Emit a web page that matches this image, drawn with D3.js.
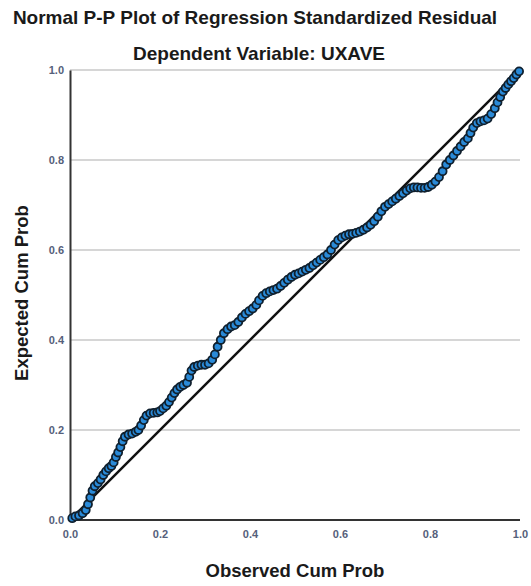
<!DOCTYPE html>
<html>
<head>
<meta charset="utf-8">
<script src="https://cdn.jsdelivr.net/npm/d3@7"></script>
<style>
  body { margin: 0; background: #fff; }
  text { font-family: "Liberation Sans", Arial, sans-serif; }
</style>
</head>
<body>
<div id="chart"></div>
<script>
// Titles
var title = "Normal P-P Plot of Regression Standardized Residual";
var subtitle = "Dependent Variable: UXAVE";
var xLabel = "Observed Cum Prob";
var yLabel = "Expected Cum Prob";
var tickValues = [0, 0.2, 0.4, 0.6, 0.8, 1.0];

// Points
var observed = [0.005,0.012,0.02,0.028,0.035,0.04,0.045,0.05,0.055,0.062,0.068,0.074,0.08,0.086,0.092,0.097,
  0.102,0.107,0.112,0.117,0.122,0.13,0.138,0.146,0.152,0.158,0.164,0.17,0.178,0.186,0.194,0.2,
  0.207,0.214,0.22,0.226,0.232,0.238,0.245,0.252,0.26,0.265,0.27,0.276,0.284,0.292,0.3,0.308,
  0.316,0.322,0.328,0.335,0.342,0.35,0.358,0.366,0.374,0.382,0.39,0.398,0.406,0.414,0.42,0.428,
  0.436,0.444,0.452,0.46,0.468,0.476,0.484,0.492,0.5,0.508,0.516,0.524,0.532,0.54,0.548,0.556,
  0.564,0.572,0.58,0.588,0.596,0.604,0.612,0.62,0.628,0.636,0.644,0.652,0.66,0.668,0.676,0.684,
  0.692,0.7,0.708,0.716,0.724,0.732,0.74,0.748,0.756,0.764,0.772,0.78,0.788,0.796,0.804,0.812,
  0.82,0.828,0.836,0.844,0.852,0.86,0.868,0.876,0.884,0.89,0.896,0.904,0.912,0.92,0.928,0.936,
  0.944,0.95,0.956,0.962,0.968,0.974,0.98,0.986,0.992,0.998];
var expected = [0.004,0.008,0.01,0.015,0.022,0.035,0.05,0.065,0.075,0.082,0.09,0.1,0.108,0.115,0.12,0.128,
  0.14,0.15,0.162,0.175,0.185,0.19,0.192,0.196,0.2,0.21,0.222,0.232,0.237,0.238,0.239,0.242,
  0.248,0.254,0.262,0.272,0.282,0.29,0.296,0.3,0.305,0.318,0.332,0.34,0.343,0.345,0.345,0.348,
  0.356,0.368,0.385,0.4,0.415,0.424,0.43,0.433,0.44,0.45,0.458,0.464,0.47,0.478,0.488,0.498,
  0.504,0.508,0.511,0.514,0.52,0.527,0.534,0.54,0.545,0.548,0.552,0.556,0.56,0.566,0.572,0.578,
  0.584,0.59,0.6,0.612,0.622,0.628,0.632,0.635,0.636,0.638,0.641,0.645,0.65,0.656,0.664,0.674,
  0.686,0.696,0.702,0.708,0.714,0.72,0.726,0.732,0.737,0.739,0.739,0.738,0.738,0.74,0.745,0.752,
  0.762,0.775,0.79,0.8,0.81,0.82,0.83,0.84,0.848,0.86,0.872,0.882,0.886,0.888,0.892,0.902,
  0.915,0.928,0.94,0.952,0.96,0.968,0.975,0.982,0.99,0.997];

var width = 531, height = 586;
var margin = { top: 70, right: 11, bottom: 66, left: 70 };
var plotW = width - margin.left - margin.right;
var plotH = height - margin.top - margin.bottom;

var svg = d3.select("#chart")
            .append("svg")
            .attr("width", width)
            .attr("height", height);

svg.append("text")
   .attr("x", 255).attr("y", 24)
   .attr("text-anchor", "middle")
   .style("font-size", "19px").style("font-weight", "bold").attr("fill", "#1a1a1a")
   .text(title);

svg.append("text")
   .attr("x", 259).attr("y", 60)
   .attr("text-anchor", "middle")
   .style("font-size", "19px").style("font-weight", "bold").attr("fill", "#1a1a1a")
   .text(subtitle);

var g = svg.append("g")
           .attr("transform", "translate(" + margin.left + "," + margin.top + ")");

var xScale = d3.scaleLinear().domain([0, 1]).range([0, 450]);
var yScale = d3.scaleLinear().domain([0, 1]).range([450, 0]);

// horizontal grid lines
g.selectAll(".grid")
 .data(tickValues.slice(1))
 .enter()
 .append("line")
 .attr("x1", 0).attr("x2", plotW)
 .attr("y1", function(d) { return yScale(d); })
 .attr("y2", function(d) { return yScale(d); })
 .attr("stroke", "#c8c8c8")
 .attr("stroke-width", 1.5);

// axes
var xAxis = g.append("g")
   .attr("transform", "translate(0," + yScale(0) + ")")
   .call(d3.axisBottom(xScale).tickValues(tickValues).tickSize(0).tickPadding(10).tickFormat(d3.format(".1f")));
xAxis.select(".domain").attr("stroke", "#333").attr("stroke-width", 2).attr("d", "M0,0H" + plotW);

var yAxis = g.append("g")
   .call(d3.axisLeft(yScale).tickValues(tickValues).tickSize(0).tickPadding(6).tickFormat(d3.format(".1f")));
yAxis.select(".domain").attr("stroke", "#333").attr("stroke-width", 2);

g.selectAll(".tick text")
 .style("font-size", "11px")
 .style("font-weight", "bold")
 .style("font-family", "'Liberation Sans', Arial, sans-serif")
 .attr("fill", "#55607a");

// reference diagonal
g.append("line")
 .attr("x1", xScale(0)).attr("y1", yScale(0))
 .attr("x2", xScale(1)).attr("y2", yScale(1))
 .attr("stroke", "#111")
 .attr("stroke-width", 2.5);

// points
g.selectAll("circle")
 .data(observed)
 .enter()
 .append("circle")
 .attr("cx", function(d) { return xScale(d); })
 .attr("cy", function(d, i) { return yScale(expected[i]); })
 .attr("r", 4)
 .attr("fill", "#2a8ad8")
 .attr("stroke", "#10202e")
 .attr("stroke-width", 1.8);

// axis titles
svg.append("text")
   .attr("x", margin.left + 225).attr("y", 577)
   .attr("text-anchor", "middle")
   .style("font-size", "18.5px").style("font-weight", "bold").attr("fill", "#1a1a1a")
   .text(xLabel);

svg.append("text")
   .attr("transform", "translate(28," + (margin.top + 223) + ") rotate(-90)")
   .attr("text-anchor", "middle")
   .style("font-size", "18.5px").style("font-weight", "bold").attr("fill", "#1a1a1a")
   .text(yLabel);
</script>
</body>
</html>
